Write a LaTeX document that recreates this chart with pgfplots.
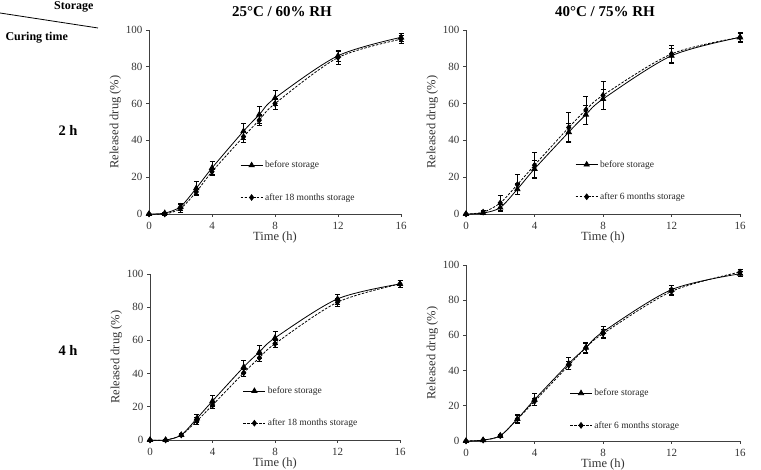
\documentclass[border=0pt]{standalone}
\usepackage{fontspec}
\setmainfont{Liberation Serif}
\usepackage{pgfplots}
\pgfplotsset{compat=1.18}

\pgfplotsset{
 myax/.style={
  scale only axis, axis lines=left, axis line style={-, black!75, line width=0.7pt},
  xmin=0,xmax=16,ymin=0,ymax=100, xtick={0,4,8,12,16}, ytick={0,20,...,100},
  tick align=outside, major tick length=3pt, tick style={black!75, line width=0.6pt},
  /pgf/number format/assume math mode=true,
  tick label style={font=\fontsize{11}{13}\selectfont, text=black!80},
  x tick label style={yshift=-1.5pt},
  label style={font=\fontsize{12.5}{14}\selectfont, text=black!80},
  xlabel style={yshift=4pt},
  ylabel style={yshift=-2pt},
  xlabel={Time (h)}, ylabel={Released drug (\%)},
  clip=false,
  legend cell align=left,
  legend style={draw=none, fill=none, font=\fontsize{9.5}{11}\selectfont, text=black!85, row sep=20pt, inner sep=0pt, anchor=west},
  legend image code/.code={\draw[mark repeat=2,mark phase=2,##1] plot coordinates {(0pt,0pt)(11pt,0pt)(22pt,0pt)};},
 },
 bef/.style={black, line width=0.8pt, smooth, mark=triangle*, mark size=3pt, mark options={solid},
   error bars/.cd, y dir=both, y explicit, error bar style={line width=0.6pt, solid}, error mark options={rotate=90, mark size=2.5pt, line width=0.6pt}},
 aft/.style={black, line width=0.8pt, smooth, dash pattern=on 2.5pt off 1.5pt, mark=diamond*, mark size=2.8pt, mark options={solid},
   error bars/.cd, y dir=both, y explicit, error bar style={line width=0.6pt, solid}, error mark options={rotate=90, mark size=2.5pt, line width=0.6pt}},
}

\begin{document}
\begin{tikzpicture}
\useasboundingbox (0pt,0pt) rectangle (761pt,470pt);

% header
\node[font=\fontsize{12}{14}\selectfont\bfseries, anchor=east] at (97pt,463pt) {Storage};
\node[font=\fontsize{12}{14}\selectfont\bfseries, anchor=west] at (2pt,432pt) {Curing time};
\draw[line width=0.8pt] (0pt,457pt) -- (98pt,442pt);
\node[font=\fontsize{15}{17}\selectfont\bfseries] at (282pt,458pt) {25°C / 60\% RH};
\node[font=\fontsize{15}{17}\selectfont\bfseries] at (605pt,458pt) {40°C / 75\% RH};
\node[font=\fontsize{14.5}{16}\selectfont\bfseries] at (68pt,340pt) {2 h};
\node[font=\fontsize{14.5}{16}\selectfont\bfseries] at (68pt,120pt) {4 h};

% top-left: 25C, 2h
\begin{axis}[myax, at={(149pt,256pt)}, anchor=south west, width=252pt, height=184pt,
  legend style={at={(axis cs:5.78,17.7)}}]
\addplot[bef] table[x=x,y=y,y error=e] {
x y e
0 0 0
1 0.5 0.5
2 4 2
3 14 3.5
4 25 3.5
6 45 4.5
7 54 4.5
8 63 4
12 86 3
16 96 2
};
\addlegendentry{before storage}
\addplot[aft] table[x=x,y=y,y error=e] {
x y e
0 0 0
1 0 0.5
2 3 2
3 12 2
4 23 2
6 42 3
7 51 3
8 60 3
12 85 3.5
16 95 2
};
\addlegendentry{after 18 months storage}
\end{axis}

% top-right: 40C, 2h
\begin{axis}[myax, at={(466pt,256pt)}, anchor=south west, width=274pt, height=184pt,
  legend style={at={(axis cs:6.37,18.1)}}]
\addplot[bef] table[x=x,y=y,y error=e] {
x y e
0 0 0
1 0.5 0.5
2 3.5 2
3 13.5 3
4 24.5 4.5
6 44.5 5
7 54 5
8 62.5 5.5
12 86 4
16 96 2
};
\addlegendentry{before storage}
\addplot[aft] table[x=x,y=y,y error=e] {
x y e
0 0 0
1 1 1
2 6 4
3 16 5.5
4 26.5 7
6 47 8
7 56.5 7.5
8 64.5 7.5
12 87 4.5
16 96 2.5
};
\addlegendentry{after 6 months storage}
\end{axis}

% bottom-left: 25C, 4h
\begin{axis}[myax, at={(150pt,30pt)}, anchor=south west, width=250pt, height=166pt,
  legend style={at={(axis cs:5.94,19.8)}}]
\addplot[bef] table[x=x,y=y,y error=e] {
x y e
0 0 0
1 0 0.5
2 3 1
3 13 2.5
4 23.5 3.5
6 44 4
7 53 4
8 61.5 4
12 85 3
16 94 2
};
\addlegendentry{before storage}
\addplot[aft] table[x=x,y=y,y error=e] {
x y e
0 0 0
1 0 0.5
2 3 1
3 11.5 2
4 21 2
6 40.5 2
7 49.5 2
8 58 2
12 83 2.5
16 94 2
};
\addlegendentry{after 18 months storage}
\end{axis}

% bottom-right: 40C, 4h
\begin{axis}[myax, at={(466pt,29pt)}, anchor=south west, width=274pt, height=176pt,
  legend style={at={(axis cs:6.04,18.0)}}]
\addplot[bef] table[x=x,y=y,y error=e] {
x y e
0 0 0
1 0.5 0.5
2 3 1
3 12.5 2.5
4 23.5 3.5
6 44 3.5
7 53 3
8 62 3
12 86 2.5
16 95 1.5
};
\addlegendentry{before storage}
\addplot[aft] table[x=x,y=y,y error=e] {
x y e
0 0 0
1 0.5 0.5
2 3 1
3 12.5 2
4 22.5 2
6 43 2.5
7 53 2.5
8 61 2.5
12 85 2
16 96 1.5
};
\addlegendentry{after 6 months storage}
\end{axis}
\end{tikzpicture}
\end{document}
